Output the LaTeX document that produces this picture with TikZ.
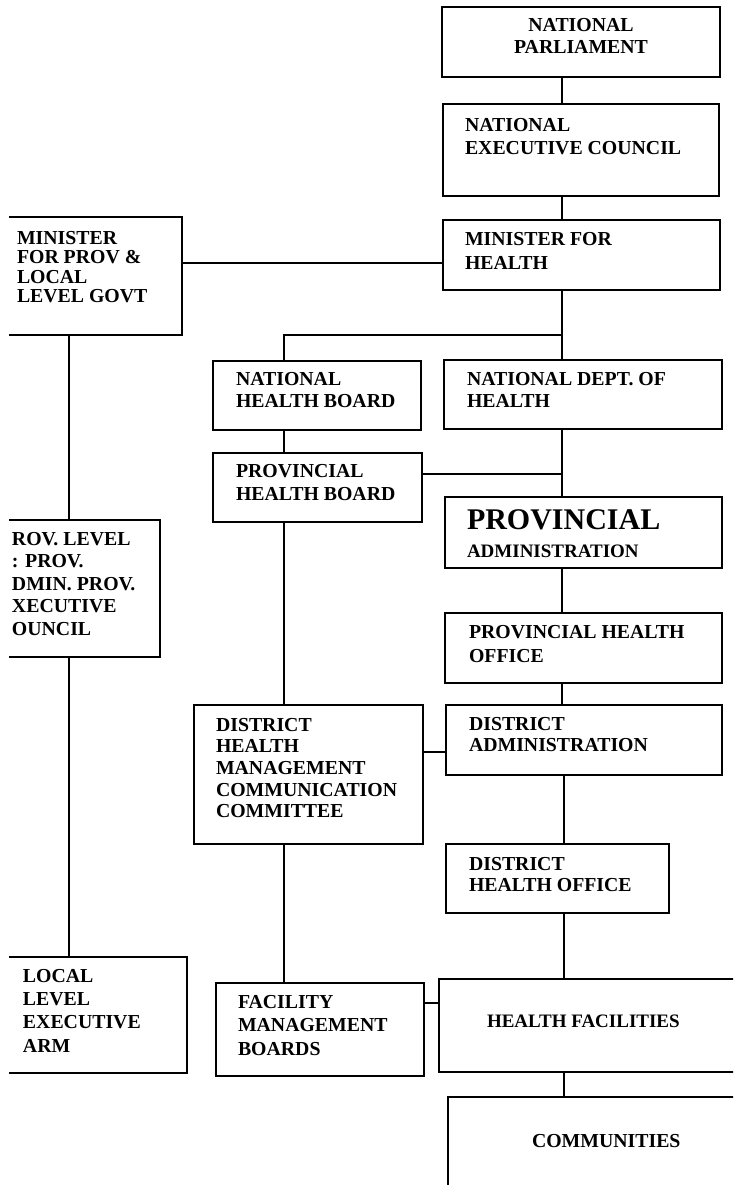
\documentclass[tikz,border=0pt]{standalone}
\usepackage{fontspec}
\setmainfont{Liberation Serif}

\tikzset{
  orgbox/.style={draw, line width=1.8pt, rectangle, inner sep=0pt, outer sep=0pt},
  boxtext/.style={anchor=north west, inner sep=0pt, outer sep=0pt, align=left,
                  font=\fontsize{19.8}{#1}\selectfont\bfseries},
  boxtext/.default=22,
  link/.style={line width=1.8pt}
}

% \boxnode{name}{left}{top}{right}{bottom}
\newcommand\boxnode[5]{%
  \node[orgbox, minimum width={(#4)-(#2)}, minimum height={(#5)-(#3)}]
    (#1) at ({((#2)+(#4))/2},{((#3)+(#5))/2}) {};}

\begin{document}
\begin{tikzpicture}[x=1pt,y=-1pt]
\useasboundingbox (0,0) rectangle (733,1185);
\clip (9,0) rectangle (733,1185);

% boxes
\boxnode{np}{442}{7}{720}{77}
\boxnode{nec}{443}{104}{719}{196}
\boxnode{mh}{443}{220}{720}{290}
\boxnode{mplg}{-20}{217}{182}{335}
\boxnode{nhb}{213}{361}{421}{430}
\boxnode{ndh}{444}{360}{722}{429}
\boxnode{phb}{213}{453}{422}{522}
\boxnode{pa}{445}{497}{722}{568}
\boxnode{pho}{445}{613}{722}{683}
\boxnode{prov}{-20}{520}{160}{657}
\boxnode{dhmcc}{194}{705}{423}{844}
\boxnode{da}{446}{705}{722}{775}
\boxnode{dho}{446}{844}{669}{913}
\boxnode{llea}{-20}{957}{187}{1073}
\boxnode{fmb}{216}{983}{424}{1076}
\boxnode{hf}{439}{979}{780}{1072}
\boxnode{com}{448}{1097}{780}{1260}

% box texts
\node[boxtext, anchor=north, align=center] (npT) at (581,18) {NATIONAL\\PARLIAMENT};
\node[boxtext=23] (necT) at (465,118) {NATIONAL\\EXECUTIVE COUNCIL};
\node[boxtext=24] (mhT) at (465,232) {MINISTER FOR\\HEALTH};
\node[boxtext=19.5] (mplgT) at (17,231) {MINISTER\\FOR PROV \&\\LOCAL\\LEVEL GOVT};
\node[boxtext] (nhbT) at (236,372) {NATIONAL\\HEALTH BOARD};
\node[boxtext] (ndhT) at (467,372) {NATIONAL DEPT. OF\\HEALTH};
\node[boxtext=23] (phbT) at (236,464) {PROVINCIAL\\HEALTH BOARD};
\node[boxtext, font=\fontsize{30}{34}\selectfont\bfseries] (paT) at (467,510) {PROVINCIAL};
\node[boxtext, font=\fontsize{19}{22}\selectfont\bfseries] (paT2) at (467,545) {ADMINISTRATION};
\node[boxtext=24] (phoT) at (469,625) {PROVINCIAL HEALTH\\OFFICE};
\node[boxtext=22.5] (provT) at (12,532) {ROV. LEVEL\\: PROV.\\DMIN. PROV.\\XECUTIVE\\OUNCIL};
\node[boxtext=21.7] (dhmccT) at (216,718) {DISTRICT\\HEALTH\\MANAGEMENT\\COMMUNICATION\\COMMITTEE};
\node[boxtext=21] (daT) at (469,717) {DISTRICT\\ADMINISTRATION};
\node[boxtext=21] (dhoT) at (469,857) {DISTRICT\\HEALTH OFFICE};
\node[boxtext=23.3] (lleaT) at (23,969) {LOCAL\\LEVEL\\EXECUTIVE\\ARM};
\node[boxtext=23.5] (fmbT) at (238,995) {FACILITY\\MANAGEMENT\\BOARDS};
\node[boxtext, font=\fontsize{19}{22}\selectfont\bfseries] (hfT) at (487,1015) {HEALTH FACILITIES};
\node[boxtext] (comT) at (532,1134) {COMMUNITIES};

% connector columns and rows
\coordinate (sp) at (562,0);
\coordinate (sq) at (564,0);
\coordinate (mid) at (284,0);
\coordinate (lft) at (69,0);
\coordinate (jn) at (562,335);
\coordinate (rowA) at (0,263);
\coordinate (rowB) at (0,474);
\coordinate (rowC) at (0,752);
\coordinate (rowD) at (0,1003);

% national spine
\draw[link] (sp |- np.south) -- (sp |- nec.north);
\draw[link] (sp |- nec.south) -- (sp |- mh.north);
\draw[link] (sp |- mh.south) -- (sp |- ndh.north);
\draw[link] (jn) -| (mid |- nhb.north);
\draw[link] (mplg.east |- rowA) -- (mh.west |- rowA);

% provincial and local government column
\draw[link] (lft |- mplg.south) -- (lft |- prov.north);
\draw[link] (lft |- prov.south) -- (lft |- llea.north);

% board column
\draw[link] (mid |- nhb.south) -- (mid |- phb.north);
\draw[link] (mid |- phb.south) -- (mid |- dhmcc.north);
\draw[link] (mid |- dhmcc.south) -- (mid |- fmb.north);

% department column
\draw[link] (phb.east |- rowB) -- (sp |- rowB);
\draw[link] (sp |- ndh.south) -- (sp |- pa.north);
\draw[link] (sp |- pa.south) -- (sp |- pho.north);
\draw[link] (sp |- pho.south) -- (sp |- da.north);
\draw[link] (dhmcc.east |- rowC) -- (da.west |- rowC);
\draw[link] (sq |- da.south) -- (sq |- dho.north);
\draw[link] (sq |- dho.south) -- (sq |- hf.north);
\draw[link] (fmb.east |- rowD) -- (hf.west |- rowD);
\draw[link] (sq |- hf.south) -- (sq |- com.north);
\end{tikzpicture}
\end{document}
